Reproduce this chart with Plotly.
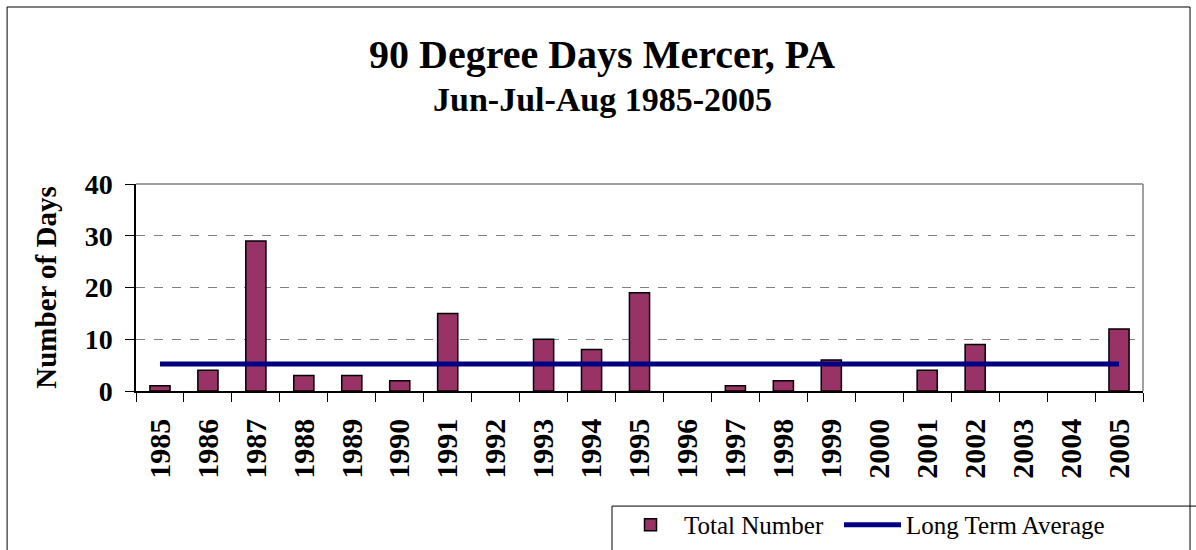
import plotly.graph_objects as go

years = [str(y) for y in range(1985, 2006)]
total_days = [1, 4, 29, 3, 3, 2, 15, 0, 10, 8, 19, 0, 1, 2, 6, 0, 4, 9, 0, 0, 12]
long_term_avg = [5.2, 5.2, 5.2, 5.2, 5.2, 5.2, 5.2, 5.2, 5.2, 5.2, 5.2,
                 5.2, 5.2, 5.2, 5.2, 5.2, 5.2, 5.2, 5.2, 5.2, 5.2]
y_ticks = [0, 10, 20, 30, 40]

serif = "Liberation Serif, Times New Roman, serif"

fig = go.Figure()

fig.add_trace(go.Bar(
    x=years,
    y=total_days,
    name="Total Number",
    legend="legend",
    marker=dict(color="#993366",
                # no outline on empty years
                line=dict(color="black", width=[1.5 if v > 0 else 0 for v in total_days])),
))

fig.add_trace(go.Scatter(
    x=years,
    y=long_term_avg,
    name="Long Term Average",
    legend="legend2",
    mode="lines",
    line=dict(color="#000080", width=5),
))

legend_style = dict(
    orientation="h",
    xref="container", yref="container",
    y=0.0455, xanchor="left", yanchor="middle",
    font=dict(family=serif, size=25, color="black"),
    itemwidth=57,
    bgcolor="rgba(0,0,0,0)",
)

# plot area: x 136..1143, y 184..391 px
fig.update_layout(
    width=1196,
    height=550,
    margin=dict(l=136, r=53, t=184, b=159),
    paper_bgcolor="white",
    plot_bgcolor="white",
    bargap=0.58,
    showlegend=True,
    legend=dict(legend_style, x=0.5159),
    legend2=dict(legend_style, x=0.7015),
    annotations=[
        dict(text="<b>90 Degree Days Mercer, PA</b>", xref="paper", yref="paper",
             x=0.4628, y=1.628, xanchor="center", yanchor="middle", showarrow=False,
             font=dict(family=serif, size=40, color="black")),
        dict(text="<b>Jun-Jul-Aug 1985-2005</b>", xref="paper", yref="paper",
             x=0.4628, y=1.4058, xanchor="center", yanchor="middle", showarrow=False,
             font=dict(family=serif, size=34, color="black")),
    ],
    shapes=[
        # outer chart frame
        dict(type="rect", xref="paper", yref="paper", x0=-0.128, x1=1.0467, y0=-0.9, y1=1.855,
             line=dict(color="black", width=1), layer="below"),
        # legend frame
        dict(type="rect", xref="paper", yref="paper", x0=0.4727, x1=1.1, y0=-0.9, y1=-0.556,
             line=dict(color="black", width=1), layer="below"),
        # top and right plot border
        dict(type="line", xref="paper", yref="paper", x0=0, x1=1, y0=1, y1=1,
             line=dict(color="#808080", width=1.5)),
        dict(type="line", xref="paper", yref="paper", x0=1, x1=1, y0=0, y1=1,
             line=dict(color="#808080", width=1.5)),
    ],
    xaxis=dict(
        type="category",
        showline=True, linecolor="black", linewidth=1.5,
        ticks="outside", tickson="boundaries", ticklen=9, tickcolor="black", tickwidth=1,
        tickangle=-90,
        ticklabelstandoff=14,
        tickfont=dict(family=serif, size=30, color="black", weight="bold"),
        showgrid=False,
    ),
    # second bottom axis only to draw the upper half of the crossing ticks
    xaxis2=dict(
        type="category", overlaying="x", anchor="y", side="bottom",
        categoryorder="array", categoryarray=years, range=[-0.5, len(years) - 0.5],
        ticks="inside", tickson="boundaries", ticklen=9, tickcolor="black", tickwidth=1,
        showticklabels=False, showgrid=False, showline=False,
    ),
    yaxis=dict(
        range=[0, 40],
        tickvals=y_ticks,
        showline=True, linecolor="black", linewidth=1.5,
        ticks="outside", ticklen=9, tickcolor="black", tickwidth=1,
        ticklabelstandoff=7,
        tickfont=dict(family=serif, size=28, color="black", weight="bold"),
        showgrid=True, gridcolor="#808080", gridwidth=1, griddash="dash",
        zeroline=False,
        title=dict(text="<b>Number of Days</b>", standoff=20,
                   font=dict(family=serif, size=29, color="black")),
    ),
)

fig.write_html("out.html", config={"displayModeBar": False},
               post_script="document.body.style.margin='0';")
